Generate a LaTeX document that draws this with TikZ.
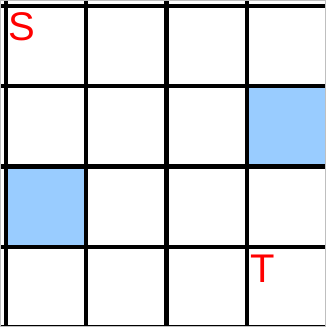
\documentclass[tikz,border=0pt]{standalone}
\usepackage{fontspec}
\setmainfont{Liberation Sans}
\usepackage{xcolor}
\usetikzlibrary{positioning}
\definecolor{blocked}{HTML}{99CCFF}
\definecolor{marker}{HTML}{FF0000}

\begin{document}
\begin{tikzpicture}[
    x=1pt,y=-1pt,
    gridline/.style={draw=black,line width=4.2pt},
    wallcell/.style={fill=blocked},
    endlabel/.style={text=marker,font=\fontsize{40}{40}\selectfont,anchor=base west,inner sep=0pt}
  ]
    \useasboundingbox (0,0) rectangle (326,327);
    \clip (0,0) rectangle (326,327);
    % blocked cells
    \fill[wallcell] (246.75,86.25) rectangle (327,166.5);
    \fill[wallcell] (6,166.5) rectangle (86.25,246.75);
    % grid
    \foreach \k in {0,...,4} {
      \draw[gridline] (6+80.25*\k,0) -- (6+80.25*\k,340);
      \draw[gridline] (0,6+80.25*\k) -- (340,6+80.25*\k);
    }
    \draw[gray!50,line width=1pt] (0.5,0.5) rectangle (325.5,326.5);
    % start and target
    \node[endlabel] (S) at (8,40) {S};
    \node[endlabel] (T) at (250,282) {T};
  \end{tikzpicture}
\end{document}
